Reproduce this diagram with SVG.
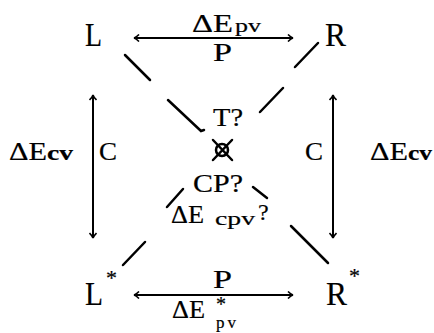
<svg xmlns="http://www.w3.org/2000/svg" width="434" height="333" viewBox="0 0 434 333">
<style>
text{font-family:"Liberation Serif","Times New Roman",serif;fill:#000;stroke:#000;stroke-width:0.2}
.big{font-size:33px}
.m{font-size:26px}
.s{font-size:19px}
.b{font-size:20px;font-weight:bold}
.ln{stroke:#000;stroke-width:2.5;fill:none;stroke-linecap:round}
.ar{stroke:#000;stroke-width:2;fill:none}
</style>
<defs>
<marker id="ah" viewBox="-6 -4 7 8" markerWidth="7" markerHeight="8" refX="0" refY="0" orient="auto-start-reverse" markerUnits="userSpaceOnUse">
<path d="M-5,-3.5 Q-2,-0.5 0,0 Q-2,0.5 -5,3.5" stroke="#000" stroke-width="1.6" fill="none"/>
</marker>
</defs>
<rect width="434" height="333" fill="#fff"/>
<g id="connectors">
<line class="ar" x1="134" y1="38" x2="293" y2="38" marker-start="url(#ah)" marker-end="url(#ah)"/>
<line class="ar" x1="134" y1="295" x2="293" y2="295" marker-start="url(#ah)" marker-end="url(#ah)"/>
<line class="ar" x1="93" y1="95" x2="93" y2="238" stroke-width="2.8" marker-start="url(#ah)" marker-end="url(#ah)"/>
<line class="ar" x1="333" y1="95" x2="333" y2="238" stroke-width="2.8" marker-start="url(#ah)" marker-end="url(#ah)"/>
<line class="ln" x1="125" y1="55" x2="150" y2="80"/>
<polyline class="ln" points="168,100 201,131 204,130"/>
<line class="ln" x1="318" y1="43" x2="295" y2="67"/>
<line class="ln" x1="283" y1="88" x2="260" y2="112"/>
<line class="ln" x1="123" y1="265" x2="145" y2="242"/>
<line class="ln" x1="167" y1="207" x2="183" y2="189"/>
<line class="ln" x1="253" y1="187" x2="267" y2="198"/>
<line class="ln" x1="291" y1="226" x2="328" y2="263"/>
</g>
<g id="L"><text class="big" x="85" y="46" textLength="17" lengthAdjust="spacingAndGlyphs">L</text></g>
<g id="R"><text class="big" x="325" y="46" textLength="21" lengthAdjust="spacingAndGlyphs">R</text></g>
<g id="Lstar"><text class="big" x="85" y="305" textLength="18" lengthAdjust="spacingAndGlyphs">L</text><text x="106" y="285" font-size="22">*</text></g>
<g id="Rstar"><text class="big" x="326" y="305" textLength="21" lengthAdjust="spacingAndGlyphs">R</text><text x="349" y="283" font-size="22">*</text></g>
<g id="labels">
<text class="m" x="192" y="32" textLength="41" lengthAdjust="spacingAndGlyphs">ΔE</text>
<text class="s" x="235" y="32" textLength="26" lengthAdjust="spacingAndGlyphs">pv</text>
<text class="m" x="213" y="61" font-size="27" textLength="19" lengthAdjust="spacingAndGlyphs">P</text>
<text class="m" x="213" y="288" font-size="27" textLength="19" lengthAdjust="spacingAndGlyphs">P</text>
<text class="m" x="172" y="318" textLength="33" lengthAdjust="spacingAndGlyphs">ΔE</text>
<text font-size="20"><tspan x="216" y="311">*</tspan><tspan x="216" y="328" font-size="17" letter-spacing="3">pv</tspan></text>
<text class="m" x="9" y="160" textLength="38" lengthAdjust="spacingAndGlyphs">ΔE</text>
<text class="b" x="47" y="160" textLength="26" lengthAdjust="spacingAndGlyphs">cv</text>
<text class="m" x="99" y="160" textLength="18" lengthAdjust="spacingAndGlyphs">C</text>
<text class="m" x="305" y="160" textLength="18" lengthAdjust="spacingAndGlyphs">C</text>
<text class="m" x="370" y="160" textLength="38" lengthAdjust="spacingAndGlyphs">ΔE</text>
<text class="b" x="408" y="160" textLength="24" lengthAdjust="spacingAndGlyphs">cv</text>
</g>
<g id="center">
<circle cx="222" cy="150" r="6" fill="none" stroke="#000" stroke-width="2.5"/>
<line class="ln" x1="213" y1="140" x2="232" y2="160"/>
<line class="ln" x1="232" y1="140" x2="213" y2="160"/>
<text x="213" y="126" font-size="26" textLength="30" lengthAdjust="spacingAndGlyphs">T?</text>
<text x="193" y="192" font-size="26" textLength="50" lengthAdjust="spacingAndGlyphs">CP?</text>
<text class="m" x="171" y="223" textLength="33" lengthAdjust="spacingAndGlyphs">ΔE</text>
<text class="s" x="215" y="225" textLength="40" lengthAdjust="spacingAndGlyphs">cpv</text>
<text x="258" y="220" font-size="24">?</text>
</g>
</svg>
